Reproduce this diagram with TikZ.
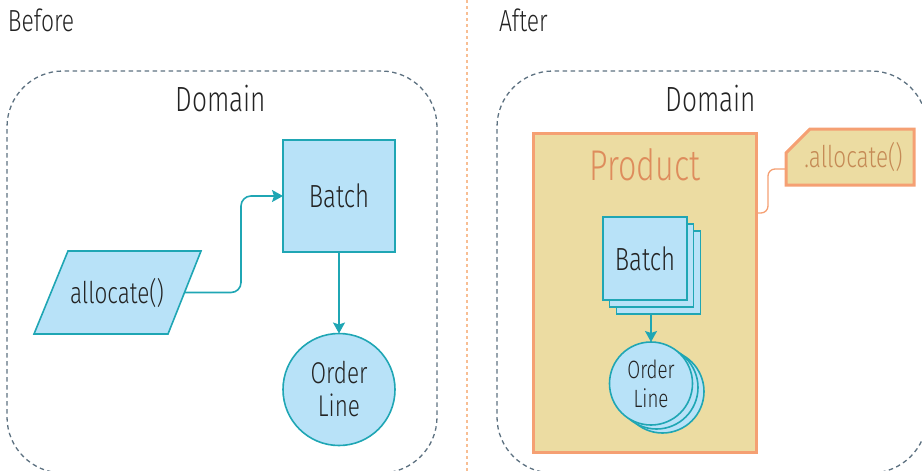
\documentclass[tikz,border=0pt]{standalone}
\usepackage{fontspec}
\setmainfont{Fira Sans Light}[FakeStretch=0.75]
\usetikzlibrary{arrows.meta,calc,backgrounds}
\definecolor{entityfill}{HTML}{B8E2F8}
\definecolor{entityline}{HTML}{1FA6B4}
\definecolor{domainline}{HTML}{5E7281}
\definecolor{splitline}{HTML}{F8BE93}
\definecolor{aggline}{HTML}{F5A073}
\definecolor{aggfill}{HTML}{ECDCA2}
\definecolor{aggtext}{HTML}{DE8C5C}
\definecolor{calltext}{HTML}{C58A55}
\definecolor{inktext}{HTML}{232323}
\begin{document}
\begin{tikzpicture}[x=1pt,y=-1pt,
  every node/.style={text=inktext, inner sep=0pt, outer sep=0pt},
  heading/.style={font=\fontsize{30.5}{33}\selectfont, anchor=base west},
  domainbox/.style={draw=domainline, line width=1.3pt, dash pattern=on 4.5pt off 3.5pt,
    rounded corners=56pt, minimum width=430pt, minimum height=402pt},
  domainlabel/.style={font=\fontsize{35}{38}\selectfont, anchor=base},
  entity/.style={draw=entityline, fill=entityfill, line width=1.6pt},
  bigbox/.style={entity, minimum width=112pt, minimum height=112pt, font=\fontsize{32}{36}\selectfont},
  bigcircle/.style={entity, circle, minimum size=112pt, align=center, font=\fontsize{30}{33}\selectfont},
  smallbox/.style={entity, minimum width=84pt, minimum height=83pt, font=\fontsize{32}{36}\selectfont},
  smallcircle/.style={entity, circle, minimum size=83pt, align=center, font=\fontsize{25}{29}\selectfont},
  flow/.style={draw=entityline, line width=1.6pt, rounded corners=10pt,
    -{Stealth[length=11pt, width=12pt, inset=2pt]}},
  aggregate/.style={draw=aggline, fill=aggfill, line width=3pt},
  link/.style={draw=aggline, line width=1.3pt, rounded corners=7pt}
]
\useasboundingbox (0,0) rectangle (922,471);
\begin{scope}
\clip (0,0) rectangle (922,471);

% headings and the dividing line
\node[heading] (before) at (8,31) {Before};
\node[heading] (after) at (499,31) {After};
\draw[splitline, line width=2pt, dash pattern=on 3pt off 3pt] (466.5,0) -- (466.5,471);

% ---------- before: loose entities ----------
\node[domainbox] (domL) at (222,272) {};
\node[domainlabel] (domLtext) at (221,111) {Domain};

\node[bigbox] (batch) at (339,196) {Batch};
\node[bigcircle] (order) at (339,389.5) {Order\\Line};
\node[minimum width=134pt, minimum height=83pt, font=\fontsize{30}{33}\selectfont] (alloc) at (117,292.5) {allocate()};
\begin{pgfonlayer}{background}
  \path[entity] ($(alloc.south west)+(-16,0)$) -- ($(alloc.north west)+(18,0)$)
     -- ($(alloc.north east)+(17,0)$) -- ($(alloc.south east)+(-16,0)$) -- cycle;
\end{pgfonlayer}

\draw[flow] (alloc.east) -- ++(57,0) |- (batch.west);
\draw[flow] (batch.south) -- (order.north);

% ---------- after: the Product aggregate ----------
\node[domainbox] (domR) at (712,272) {};
\node[domainlabel] (domRtext) at (711,111) {Domain};

\node[aggregate, minimum width=223pt, minimum height=319pt] (product) at (644.5,292.5) {};
\node[anchor=base, text=aggtext, font=\fontsize{43}{47}\selectfont] (producttext) at (645,180) {Product};

\node[smallbox] (batchC) at (658.5,272.5) {};
\node[smallbox] (batchB) at (651.5,265.5) {};
\node[smallbox] (batchA) at (645,258.5) {Batch};

\node[smallcircle] (orderC) at (662.5,391.5) {};
\node[smallcircle] (orderB) at (656.5,387.5) {};
\node[smallcircle] (orderA) at (651,383.5) {Order\\Line};

\draw[flow] (batchC.south -| orderA.north) -- (orderA.north);

% the .allocate() entry point with its clipped corner
\node[minimum width=128pt, minimum height=56pt, text=calltext,
      font=\fontsize{30}{33}\selectfont] (call) at (850,157) {\hspace*{7pt}.allocate()};
\begin{pgfonlayer}{background}
  \path[aggregate] ($(call.north west)+(24,0)$) -- (call.north east) -- (call.south east)
     -- (call.south west) -- ($(call.north west)+(0,24)$) -- cycle;
\end{pgfonlayer}
\draw[link] ($(product.north east)+(0,80)$) -- ++(12,0) |- ($(call.south west)+(0,-16)$);
\end{scope}
\end{tikzpicture}
\end{document}
